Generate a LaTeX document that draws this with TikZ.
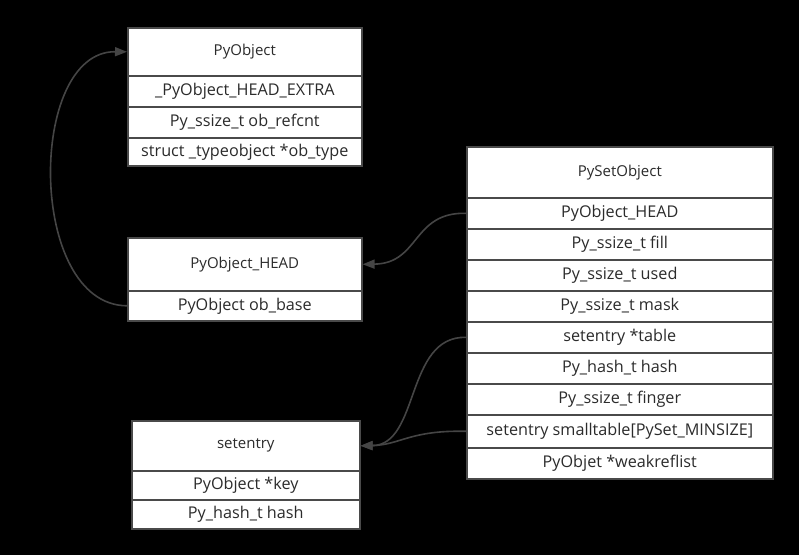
\documentclass[tikz,border=0pt]{standalone}
\usepackage{fontspec}
\setmainfont{Open Sans}
\usetikzlibrary{arrows.meta}
\definecolor{bordercol}{HTML}{4A4A4A}
\definecolor{textcol}{HTML}{2B2B2B}
\definecolor{linecol}{HTML}{454545}
\tikzset{
  cell/.style={draw=bordercol, line width=1.6bp, fill=white, text=textcol, inner sep=0pt,
    font=\fontsize{16.2bp}{18bp}\selectfont, anchor=north west},
  headcell/.style={cell, font=\fontsize{15bp}{18bp}\selectfont},
  link/.style={draw=linecol, line width=1.6bp, -{Triangle[length=12bp,width=9bp]}}
}
\begin{document}
\begin{tikzpicture}[x=1bp,y=-1bp]
\fill[black] (0,0) rectangle (799,555);
\useasboundingbox (0,0) rectangle (799,555);
% PyObject
\node[headcell, minimum width=234bp, minimum height=48bp] (pyobj) at (127,27) {PyObject};
\node[cell, minimum width=234bp, minimum height=31bp] (extra) at (127,75) {\_PyObject\_HEAD\_EXTRA};
\node[cell, minimum width=234bp, minimum height=31bp] (refcnt) at (127,106) {Py\_ssize\_t ob\_refcnt};
\node[cell, minimum width=234bp, minimum height=28bp] (obtype) at (127,137) {struct \_typeobject *ob\_type};
% PyObject_HEAD
\node[headcell, minimum width=234bp, minimum height=53bp] (pyhead) at (127,237) {PyObject\_HEAD};
\node[cell, minimum width=234bp, minimum height=30bp] (obbase) at (127,290) {PyObject ob\_base};
% setentry
\node[headcell, minimum width=228bp, minimum height=50bp] (setentry) at (131,420) {setentry};
\node[cell, minimum width=228bp, minimum height=29bp] (key) at (131,470) {PyObject *key};
\node[cell, minimum width=228bp, minimum height=29bp] (ehash) at (131,499) {Py\_hash\_t hash};
% PySetObject
\node[headcell, minimum width=306bp, minimum height=51bp] (setobj) at (466,146) {PySetObject};
\node[cell, minimum width=306bp, minimum height=31bp] (shead) at (466,197) {PyObject\_HEAD};
\node[cell, minimum width=306bp, minimum height=31bp] (fill) at (466,228) {Py\_ssize\_t fill};
\node[cell, minimum width=306bp, minimum height=31bp] (used) at (466,259) {Py\_ssize\_t used};
\node[cell, minimum width=306bp, minimum height=31bp] (mask) at (466,290) {Py\_ssize\_t mask};
\node[cell, minimum width=306bp, minimum height=31bp] (table) at (466,321) {setentry *table};
\node[cell, minimum width=306bp, minimum height=31bp] (shash) at (466,352) {Py\_hash\_t hash};
\node[cell, minimum width=306bp, minimum height=31bp] (finger) at (466,383) {Py\_ssize\_t finger};
\node[cell, minimum width=306bp, minimum height=33bp] (small) at (466,414) {setentry smalltable[PySet\_MINSIZE]};
\node[cell, minimum width=306bp, minimum height=31bp] (weak) at (466,447) {PyObjet *weakreflist};
% connectors
\draw[link] (obbase.west) .. controls (27,305) and (27,51) .. (pyobj.west);
\draw[link] (shead.west) .. controls (412,212) and (420,263.5) .. (pyhead.east);
\draw[link] (table.west) .. controls (405,336) and (420,445) .. (setentry.east);
\draw[link] (small.west) .. controls (410,430) and (400,445) .. (setentry.east);
\end{tikzpicture}
\end{document}
